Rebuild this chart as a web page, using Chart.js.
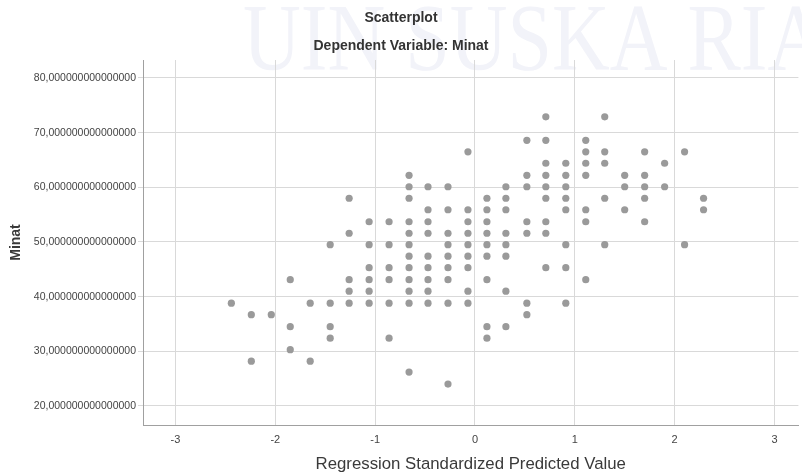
<!DOCTYPE html>
<html>
<head>
<meta charset="utf-8">
<script src="https://cdn.jsdelivr.net/npm/chart.js@4"></script>
<style>
  body { margin: 0; background: #fff; }
  #wrap { width: 802px; height: 475px; position: relative; }
</style>
</head>
<body>
<div id="wrap"><canvas id="myChart"></canvas></div>
<script>
// regression standardized predicted value (x) and Minat (y), read column by column
const predicted = [
  -2.44,
  -2.24, -2.24,
  -2.04,
  -1.85, -1.85, -1.85,
  -1.65, -1.65,
  -1.45, -1.45, -1.45, -1.45,
  -1.26, -1.26, -1.26, -1.26, -1.26,
  -1.06, -1.06, -1.06, -1.06, -1.06, -1.06,
  -0.86, -0.86, -0.86, -0.86, -0.86, -0.86,
  -0.66, -0.66, -0.66, -0.66, -0.66, -0.66, -0.66, -0.66, -0.66, -0.66, -0.66, -0.66,
  -0.47, -0.47, -0.47, -0.47, -0.47, -0.47, -0.47, -0.47, -0.47,
  -0.27, -0.27, -0.27, -0.27, -0.27, -0.27, -0.27, -0.27, -0.27,
  -0.07, -0.07, -0.07, -0.07, -0.07, -0.07, -0.07, -0.07, -0.07,
  0.12, 0.12, 0.12, 0.12, 0.12, 0.12, 0.12, 0.12, 0.12,
  0.31, 0.31, 0.31, 0.31, 0.31, 0.31, 0.31, 0.31,
  0.52, 0.52, 0.52, 0.52, 0.52, 0.52, 0.52,
  0.71, 0.71, 0.71, 0.71, 0.71, 0.71, 0.71, 0.71, 0.71,
  0.91, 0.91, 0.91, 0.91, 0.91, 0.91, 0.91, 0.91,
  1.11, 1.11, 1.11, 1.11, 1.11, 1.11, 1.11,
  1.30, 1.30, 1.30, 1.30, 1.30,
  1.50, 1.50, 1.50,
  1.70, 1.70, 1.70, 1.70, 1.70,
  1.90, 1.90,
  2.10, 2.10,
  2.29, 2.29
];
const minat = [
  38.8,
  36.7, 28.2,
  36.7,
  43.1, 34.5, 30.3,
  38.8, 28.2,
  49.5, 38.8, 34.5, 32.4,
  58.0, 51.6, 43.1, 41.0, 38.8,
  53.7, 49.5, 45.3, 43.1, 41.0, 38.8,
  53.7, 49.5, 45.3, 43.1, 38.8, 32.4,
  62.2, 60.1, 58.0, 53.7, 51.6, 49.5, 47.4, 45.3, 43.1, 41.0, 38.8, 26.2,
  60.1, 55.9, 53.7, 51.6, 47.4, 45.3, 43.1, 41.0, 38.8,
  60.1, 55.9, 51.6, 49.5, 47.4, 45.3, 43.1, 38.8, 24.0,
  66.5, 55.9, 53.7, 51.6, 49.5, 47.4, 45.3, 41.0, 38.8,
  58.0, 55.9, 53.7, 51.6, 49.5, 47.4, 43.1, 34.5, 32.4,
  60.1, 58.0, 55.9, 51.6, 49.5, 47.4, 41.0, 34.5,
  68.6, 62.2, 60.1, 53.7, 51.6, 38.8, 36.7,
  72.9, 68.6, 64.4, 62.2, 60.1, 58.0, 53.7, 51.6, 45.3,
  64.4, 62.2, 60.1, 58.0, 55.9, 49.5, 45.3, 38.8,
  68.6, 66.5, 64.4, 62.2, 55.9, 53.7, 43.1,
  72.9, 66.5, 64.4, 58.0, 49.5,
  62.2, 60.1, 55.9,
  66.5, 62.2, 60.1, 58.0, 53.7,
  64.4, 60.1,
  66.5, 49.5,
  58.0, 55.9
];
const xTicks = [-3, -2, -1, 0, 1, 2, 3];
const yTicks = [20, 30, 40, 50, 60, 70, 80];
const yTickLabels = ["20,000000000000000", "30,000000000000000", "40,000000000000000",
  "50,000000000000000", "60,000000000000000", "70,000000000000000", "80,000000000000000"];

const points = predicted.map((x, i) => ({ x: x, y: minat[i] }));

// faint university watermark behind the plot
const watermark = {
  id: "watermark",
  beforeDraw(chart) {
    const ctx = chart.ctx;
    ctx.save();
    ctx.font = '95px "Liberation Serif", serif';
    ctx.fillStyle = "#f2f3f9";
    ctx.textBaseline = "alphabetic";
    const txt = "UIN SUSKA RIAU";
    const w = ctx.measureText(txt).width;
    ctx.translate(243, 70);
    ctx.scale(640 / w, 1);
    ctx.fillText(txt, 0, 0);
    ctx.restore();
  }
};

const config = {
  type: "scatter",
  data: {
    datasets: [
      {
        data: points,
        backgroundColor: "#9a9a9a",
        borderWidth: 0,
        pointRadius: 3.6,
        pointHoverRadius: 3.6,
      },
    ],
  },
  plugins: [watermark],
  options: {
    responsive: true,
    maintainAspectRatio: false,
    animation: false,
    layout: { padding: 0 },
    plugins: {
      legend: { display: false },
      tooltip: { enabled: false },
      title: {
        display: true,
        text: "Scatterplot",
        color: "#333",
        font: { family: '"Liberation Sans", Arial, sans-serif', size: 14, weight: "bold" },
        padding: { top: 10, bottom: 4 },
      },
      subtitle: {
        display: true,
        text: "Dependent Variable: Minat",
        color: "#333",
        font: { family: '"Liberation Sans", Arial, sans-serif', size: 14, weight: "bold" },
        padding: { top: 7, bottom: 5.4 },
      },
    },
    scales: {
      x: {
        type: "linear",
        min: -3.325,
        max: 3.24,
        afterBuildTicks: (scale) => {
          scale.ticks = xTicks.map((v) => ({ value: v }));
        },
        afterFit: (scale) => {
          scale.height = 50;
        },
        grid: { color: "#d9d9d9", drawTicks: false },
        border: { color: "#a0a0a0" },
        ticks: {
          color: "#444",
          padding: 8,
          font: { family: '"Liberation Sans Narrow", "Liberation Sans", sans-serif', size: 11 },
        },
        title: {
          display: true,
          text: "Regression Standardized Predicted Value",
          color: "#3a3a3a",
          font: { family: '"Liberation Sans", Arial, sans-serif', size: 16.8 },
          padding: { top: 0, bottom: 0.5 },
        },
      },
      y: {
        type: "linear",
        min: 16.52,
        max: 83.29,
        afterBuildTicks: (scale) => {
          scale.ticks = yTicks.map((v) => ({ value: v }));
        },
        afterFit: (scale) => {
          scale.width = 143;
        },
        grid: { color: "#d9d9d9", tickLength: 5 },
        border: { color: "#a0a0a0" },
        ticks: {
          color: "#444",
          padding: 2,
          font: { family: '"Liberation Sans", Arial, sans-serif', size: 10.5 },
          callback: (value) => yTickLabels[yTicks.indexOf(value)],
        },
        title: {
          display: true,
          text: "Minat",
          color: "#3a3a3a",
          font: { family: '"Liberation Sans", Arial, sans-serif', size: 14, weight: "bold" },
          padding: { top: 7.5, bottom: 0 },
        },
      },
    },
  },
};

let myChart = new Chart(document.getElementById("myChart"), config);
</script>
</body>
</html>
